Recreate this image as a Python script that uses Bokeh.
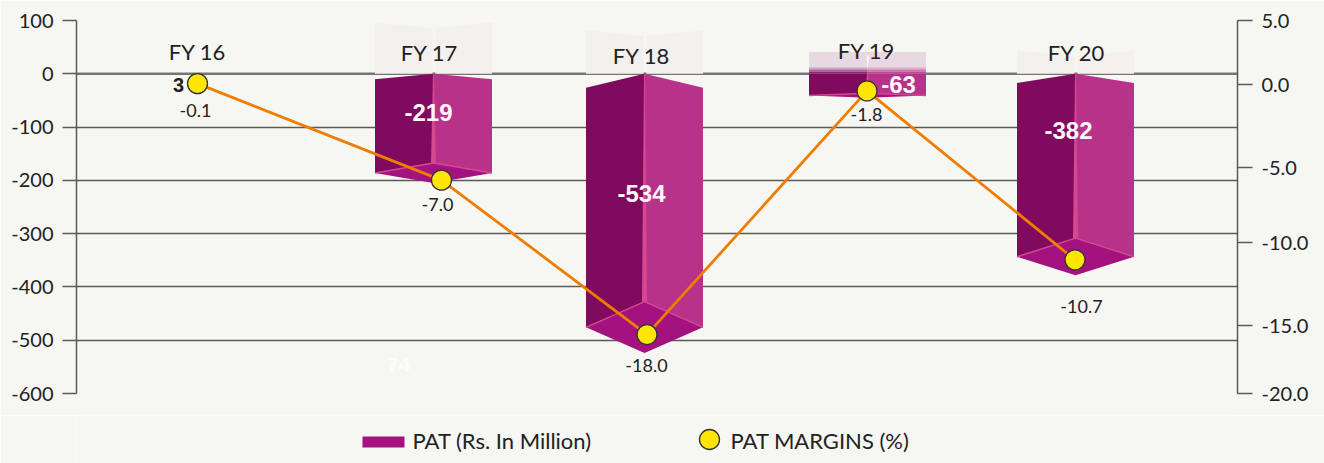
from bokeh.plotting import figure
from bokeh.embed import file_html
from bokeh.resources import INLINE
from bokeh.core.properties import value
from bokeh.layouts import column
from bokeh.models import Range1d, LinearAxis, FixedTicker, ColumnDataSource, Span

# ---- data ----
years = ["FY 16", "FY 17", "FY 18", "FY 19", "FY 20"]
pat_values = [3, -219, -534, -63, -382]
margin_values = ["-0.1", "-7.0", "-18.0", "-1.8", "-10.7"]
# the source graphic is hand drawn: where each marker and bar sits on its axis
margin_on_axis = [0.77, -5.70, -16.05, 0.28, -11.04]
bar_tip_on_axis = [-205, -524, -45, -378]
bar_years = ["FY 17", "FY 18", "FY 19", "FY 20"]
left_ticks = [100, 0, -100, -200, -300, -400, -500, -600]
right_tick_labels = ["5.0", "0.0", "-5.0", "-10.0", "-15.0", "-20.0"]
right_tick_at = [5, 0.70, -4.87, -9.90, -15.47, -20]
stray_label = "74"
legend_labels = ["PAT (Rs. In Million)", "PAT MARGINS (%)"]

# ---- layout: x is in page pixels, y labels in left-axis units ----
marker_x = [197, 441, 646.5, 866.5, 1074.5]
bar_x = [433, 644, 867, 1075]
bar_half = 58.5
top_slope = [0.05, 0.05, 0.0, 0.046]
ghost_top = [96, 81, 41, 43]
fy_x = [197, 429, 641, 866, 1076]
fy_y = [42, 40.5, 34.5, 43.5, 40.5]
mlabel_x = [195, 437, 646, 866, 1081]
mlabel_y = [-68, -246, -547, -77, -436]
vlabel_x = [428, 641, 898, 1068]
vlabel_y = [-73, -224, -20, -107]

PAPER = "#f6f6f2"
LEFT = "#7f0a5e"
RIGHT = "#b73288"
BOTTOM = "#a3127f"
SEAM = "#d5488f"
GRID = "#5a5a5a"
INK = "#222222"
SANS = "Lato"
BOLD = "Liberation Sans"

p = figure(width=1324, height=415, frame_width=1161, frame_height=373,
           x_range=Range1d(76, 1237), y_range=Range1d(-600, 100),
           output_backend="svg", toolbar_location=None,
           min_border_left=76, min_border_right=87, min_border_top=20, min_border_bottom=22,
           background_fill_color=PAPER, border_fill_color=PAPER, outline_line_color=None,
           y_axis_location="left")
p.extra_y_ranges = {"margin": Range1d(-20, 5)}

p.xaxis.visible = False
p.xgrid.visible = False
p.ygrid.ticker = FixedTicker(ticks=left_ticks)
p.ygrid.grid_line_color = GRID
p.ygrid.grid_line_width = 1.5
p.add_layout(Span(location=0, dimension="width", line_color="#757575", line_width=2.2, level="underlay"))

ax = p.yaxis[0]
ax.ticker = FixedTicker(ticks=left_ticks)
ax.major_tick_out = 14
ax.major_tick_in = 0
ax.minor_tick_line_color = None
ax.major_tick_line_color = GRID
ax.major_tick_line_width = 1.5
ax.axis_line_color = GRID
ax.axis_line_width = 1.5
ax.major_label_standoff = 9
ax.major_label_text_font = SANS
ax.major_label_text_font_size = "20px"
ax.major_label_text_color = INK
ax.major_label_overrides = {t: str(t) for t in left_ticks}

rax = LinearAxis(y_range_name="margin", ticker=FixedTicker(ticks=right_tick_at))
rax.major_label_overrides = dict(zip(right_tick_at, right_tick_labels))
rax.major_tick_out = 15
rax.major_tick_in = 0
rax.minor_tick_line_color = None
rax.major_tick_line_color = GRID
rax.major_tick_line_width = 1.5
rax.axis_line_color = GRID
rax.axis_line_width = 1.5
rax.major_label_standoff = 9
rax.major_label_text_font = SANS
rax.major_label_text_font_size = "20px"
rax.major_label_text_color = INK
p.add_layout(rax, "right")

# pale reflections above the prisms
for i, cx in enumerate(bar_x):
    l, r = cx - bar_half, cx + bar_half
    t = ghost_top[i]
    dip = t - 10
    if bar_years[i] == "FY 19":
        p.quad(left=l, right=r, bottom=0, top=t, fill_color="#e7d8e1", line_color=None)
        for lo, hi, a in [(0, 4, 0.85), (4, 8, 0.55), (8, 12, 0.25)]:
            p.quad(left=l, right=cx, bottom=lo, top=hi, fill_color=LEFT, fill_alpha=a, line_color=None)
            p.quad(left=cx, right=r, bottom=lo, top=hi, fill_color=RIGHT, fill_alpha=a, line_color=None)
        p.patch([cx - 1, cx + 2, cx], [t - 6, t - 6, 8], fill_color="#f8f4f6", line_color=None)
    else:
        p.patch([l, cx - 1, cx - 1, l], [t, dip, 0, 0], fill_color="#f3efed", line_color=None)
        p.patch([cx + 2, r, r, cx + 2], [dip, t, 0, 0], fill_color="#f4f0ee", line_color=None)

# the prisms
for i, cx in enumerate(bar_x):
    tip = bar_tip_on_axis[i]
    l, r = cx - bar_half, cx + bar_half
    side = tip * (1 - 0.092)
    back = tip * (1 - 0.184)
    edge = tip * top_slope[i]
    p.patch([l, cx, cx, l], [edge, 0, back, side], fill_color=LEFT, line_color=None)
    p.patch([cx, r, r, cx], [0, edge, side, back], fill_color=RIGHT, line_color=None)
    p.patch([l, cx, r, cx], [side, back, side, tip], fill_color=BOTTOM, line_color=None)
    p.patch([cx - 0.5, cx + 0.5, cx + 2.5, cx - 2.5], [0, 0, back, back], fill_color=SEAM, line_color=None)
    p.line([l, cx, r], [side, back, side], line_color=SEAM, line_width=1.5)

# PAT margins
src = ColumnDataSource(dict(x=marker_x, y=margin_on_axis))
p.line("x", "y", source=src, y_range_name="margin", line_color="#ee7d00", line_width=2.8)
p.scatter("x", "y", source=src, y_range_name="margin", size=20, fill_color="#ffe600",
          line_color="#333333", line_width=1.3)

# texts
p.text(fy_x, fy_y, text=years, text_font=value(SANS), text_font_size="22px",
       text_color=INK, text_align="center", text_baseline="middle")
p.text(mlabel_x, mlabel_y, text=margin_values, text_font=value(SANS), text_font_size="18px",
       text_color=INK, text_align="center", text_baseline="middle")
p.text(vlabel_x, vlabel_y, text=[str(v) for v in pat_values[1:]], text_font=value(BOLD),
       text_font_size="24px", text_font_style="bold", text_color="#fff6fb",
       text_align="center", text_baseline="middle")
p.text([178], [-21], text=[str(pat_values[0])], text_font=value(BOLD), text_font_size="20px",
       text_font_style="bold", text_color=INK, text_align="center", text_baseline="middle")
p.text([398], [-547], text=[stray_label], text_font=value(BOLD), text_font_size="21px",
       text_font_style="bold", text_color="#ffffff", text_alpha=0.85, text_align="center",
       text_baseline="middle")

# legend strip: x and y in page pixels (its frame lines up with the chart's frame)
lg = figure(width=1324, height=48, frame_width=1161, frame_height=48,
            x_range=Range1d(76, 1237), y_range=Range1d(463, 415),
            output_backend="svg", toolbar_location=None,
            min_border_left=76, min_border_right=87, min_border_top=0, min_border_bottom=0,
            background_fill_color=PAPER, border_fill_color=PAPER, outline_line_color=None)
lg.axis.visible = False
lg.grid.visible = False
lg.quad(left=[362], right=[404], top=[436], bottom=[447], fill_color=BOTTOM, line_color=None)
lg.scatter([709], [439], size=20, fill_color="#ffe600", line_color="#333333", line_width=1.3)
lg.text([412, 730], [440, 440], text=legend_labels, text_font=value(SANS), text_font_size="22px",
        text_color=INK, text_align="left", text_baseline="middle")

page = column(p, lg, spacing=0)
open("out.html", "w").write(file_html(page, INLINE))
